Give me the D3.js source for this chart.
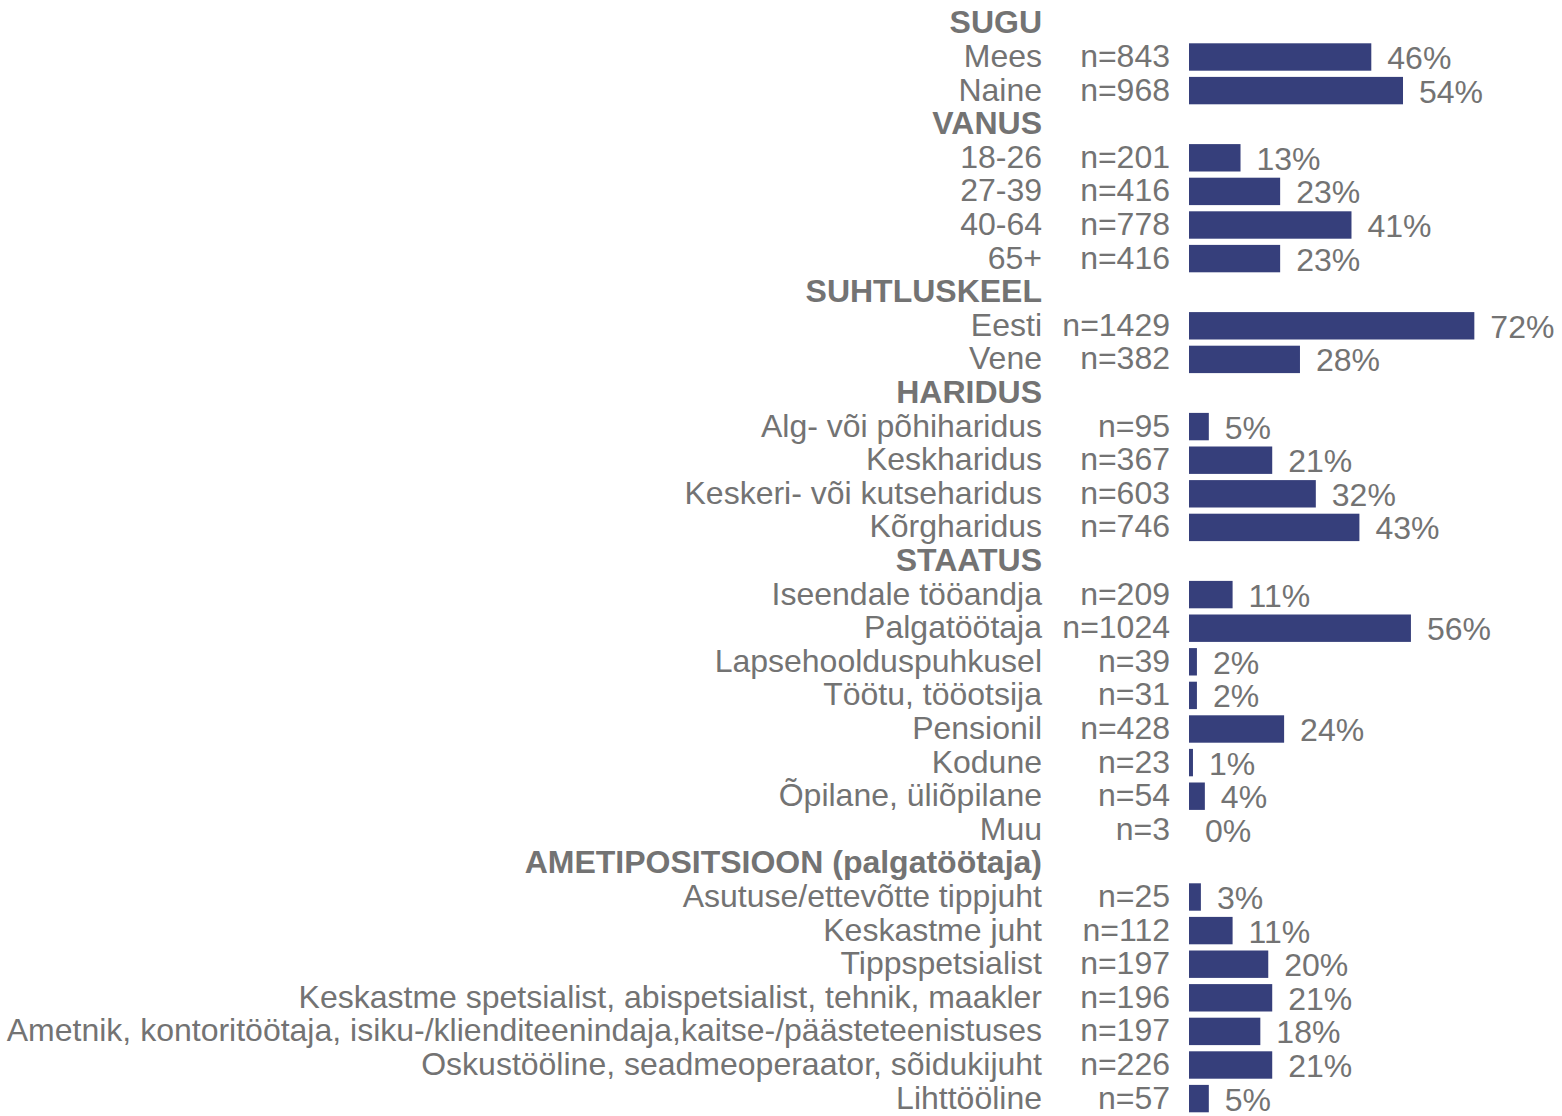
<!DOCTYPE html>
<html>
<head>
<meta charset="utf-8">
<script src="https://cdn.jsdelivr.net/npm/d3@7/dist/d3.min.js"></script>
<style>
  html, body { margin: 0; padding: 0; background: #ffffff; }
  svg { display: block; }
  text { font-family: "Liberation Sans", Arial, sans-serif; }
</style>
</head>
<body>
<svg id="chart" width="1562" height="1116"></svg>
<script>
// Group headings and their member categories
const groups = ["SUGU", "VANUS", "SUHTLUSKEEL", "HARIDUS", "STAATUS", "AMETIPOSITSIOON (palgatöötaja)"];

const sugu = ["Mees", "Naine"];
const suguN = [843, 968];
const suguPct = [46, 54];

const vanus = ["18-26", "27-39", "40-64", "65+"];
const vanusN = [201, 416, 778, 416];
const vanusPct = [13, 23, 41, 23];

const keel = ["Eesti", "Vene"];
const keelN = [1429, 382];
const keelPct = [72, 28];

const haridus = ["Alg- või põhiharidus", "Keskharidus", "Keskeri- või kutseharidus", "Kõrgharidus"];
const haridusN = [95, 367, 603, 746];
const haridusPct = [5, 21, 32, 43];

const staatus = ["Iseendale tööandja", "Palgatöötaja", "Lapsehoolduspuhkusel", "Töötu, tööotsija",
                 "Pensionil", "Kodune", "Õpilane, üliõpilane", "Muu"];
const staatusN = [209, 1024, 39, 31, 428, 23, 54, 3];
const staatusPct = [11, 56, 2, 2, 24, 1, 4, 0];

const amet = ["Asutuse/ettevõtte tippjuht", "Keskastme juht", "Tippspetsialist",
              "Keskastme spetsialist, abispetsialist, tehnik, maakler",
              "Ametnik, kontoritöötaja, isiku-/klienditeenindaja,kaitse-/päästeteenistuses",
              "Oskustööline, seadmeoperaator, sõidukijuht", "Lihttööline"];
const ametN = [25, 112, 197, 196, 197, 226, 57];
const ametPct = [3, 11, 20, 21, 18, 21, 5];

const members = [
  [sugu, suguN, suguPct],
  [vanus, vanusN, vanusPct],
  [keel, keelN, keelPct],
  [haridus, haridusN, haridusPct],
  [staatus, staatusN, staatusPct],
  [amet, ametN, ametPct]
];

// Flatten into rows: a heading row followed by its category rows
const rows = [];
groups.forEach((g, gi) => {
  rows.push({ id: "h" + gi, label: g, header: true });
  const [labels, ns, pcts] = members[gi];
  labels.forEach((l, i) => rows.push({ id: gi + "-" + i, label: l, n: ns[i], pct: pcts[i], header: false }));
});

const svg = d3.select("#chart");
const textColor = "#737373";
const barColor = "#363f7b";
const fontSize = 32;

const labelRight = 1042;
const nRight = 1170;
const barLeft = 1189;

const y = d3.scalePoint()
  .domain(rows.map(r => r.id))
  .range([23.4, 23.4 + 33.6 * (rows.length - 1)]);

const x = d3.scaleLinear().domain([0, 100]).range([barLeft, barLeft + 396.3]);
const barH = 27.4;

const g = svg.append("g");

// Category and heading labels
g.selectAll("text.cat")
  .data(rows)
  .join("text")
  .attr("class", "cat")
  .attr("x", labelRight)
  .attr("y", d => y(d.id) - 1)
  .attr("text-anchor", "end")
  .attr("dominant-baseline", "central")
  .attr("fill", textColor)
  .attr("font-size", fontSize)
  .attr("font-weight", d => d.header ? "bold" : "normal")
  .text(d => d.label);

const dataRows = rows.filter(r => !r.header);

// Sample sizes
g.selectAll("text.n")
  .data(dataRows)
  .join("text")
  .attr("class", "n")
  .attr("x", nRight)
  .attr("y", d => y(d.id) - 1)
  .attr("text-anchor", "end")
  .attr("dominant-baseline", "central")
  .attr("fill", textColor)
  .attr("font-size", fontSize)
  .text(d => "n=" + d.n);

// Bars
g.selectAll("rect.bar")
  .data(dataRows)
  .join("rect")
  .attr("class", "bar")
  .attr("x", x(0))
  .attr("y", d => y(d.id) - barH / 2)
  .attr("width", d => x(d.pct) - x(0))
  .attr("height", barH)
  .attr("fill", barColor);

// Percentage labels
g.selectAll("text.pct")
  .data(dataRows)
  .join("text")
  .attr("class", "pct")
  .attr("x", d => x(d.pct) + 16)
  .attr("y", d => y(d.id) + 1)
  .attr("text-anchor", "start")
  .attr("dominant-baseline", "central")
  .attr("fill", textColor)
  .attr("font-size", fontSize)
  .text(d => d.pct + "%");
</script>
</body>
</html>
